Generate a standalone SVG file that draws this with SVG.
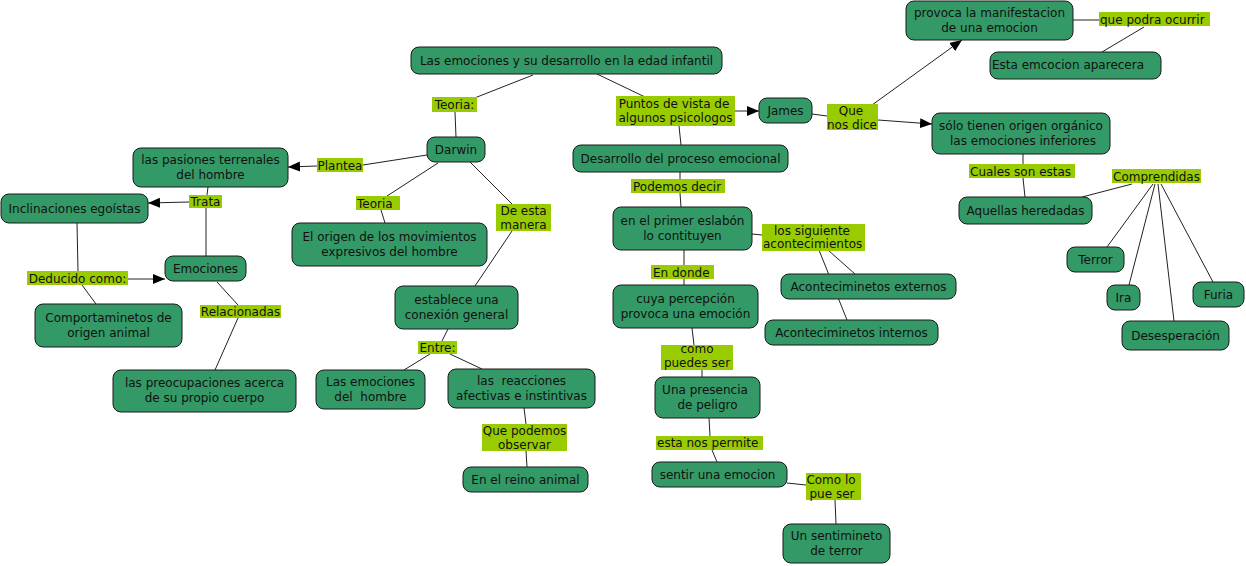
<svg xmlns="http://www.w3.org/2000/svg" width="1246" height="566" viewBox="0 0 1246 566">
<defs>
<marker id="arr" markerUnits="userSpaceOnUse" markerWidth="13" markerHeight="11" refX="12" refY="5" orient="auto">
<path d="M0,0 L12,5 L0,10 z" fill="#000"/>
</marker>
<style>
.n rect{fill:#339966;stroke:#1a1a1a;stroke-width:1}
.n text{font-family:"DejaVu Sans",Verdana,sans-serif;font-size:12px;fill:#111;text-anchor:middle;white-space:pre}
.l rect{fill:#99cc00;stroke:none}
.l text{font-family:"DejaVu Sans",Verdana,sans-serif;font-size:12px;fill:#111;text-anchor:middle;white-space:pre}
.l text.s{text-anchor:start}
#conn path{fill:none;stroke:#222;stroke-width:1}
#conn path.a{marker-end:url(#arr)}
</style>
</defs>
<rect width="1246" height="566" fill="#fff"/>
<g id="conn">
<path d="M533,75 L472,99"/>
<path d="M455,112 L456,137"/>
<path d="M597,74 L645,97"/>
<path class="a" d="M735,111 L759,111"/>
<path d="M679,126 L681,145"/>
<path d="M427,155 L363,165"/>
<path class="a" d="M317,166 L288,167"/>
<path d="M438,163 L387,196"/>
<path d="M381,210 L385,223"/>
<path d="M470,162 L512,204"/>
<path d="M512,231 L475,286"/>
<path d="M208,187 L207,195"/>
<path class="a" d="M189,202 L148,203"/>
<path d="M206,208 L206,256"/>
<path d="M77,223 L78,271"/>
<path class="a" d="M128,279 L165,279"/>
<path d="M82,285 L96,304"/>
<path d="M217,282 L238,305"/>
<path d="M238,318 L215,370"/>
<path d="M448,329 L442,341"/>
<path d="M430,354 L404,370"/>
<path d="M450,354 L482,369"/>
<path d="M524,408 L526,424"/>
<path d="M526,451 L527,467"/>
<path d="M680,172 L680,179"/>
<path d="M680,193 L681,207"/>
<path d="M752,234 L762,235"/>
<path d="M819,250 L847,320"/>
<path d="M828,250 L855,274"/>
<path d="M684,250 L684,265"/>
<path d="M684,279 L684,285"/>
<path d="M692,328 L694,345"/>
<path d="M702,370 L702,377"/>
<path d="M709,418 L710,436"/>
<path d="M712,450 L717,462"/>
<path d="M787,483 L806,485"/>
<path d="M835,500 L836,524"/>
<path d="M812,114 L827,116"/>
<path class="a" d="M872,105 L962,40"/>
<path class="a" d="M878,120 L932,124"/>
<path d="M1073,20 L1099,20"/>
<path d="M1144,27 L1102,52"/>
<path d="M1023,154 L1023,164"/>
<path d="M1023,178 L1025,197"/>
<path d="M1082,197 L1132,184"/>
<path d="M1153,184 L1107,247"/>
<path d="M1155,184 L1129,285"/>
<path d="M1158,184 L1174,321"/>
<path d="M1161,184 L1213,282"/>
</g>
<g id="n1" class="n"><rect x="411" y="47" width="311" height="27" rx="8"/><text x="566.5" y="65">Las emociones y su desarrollo en la edad infantil</text></g>
<g id="n2" class="n"><rect x="427" y="137" width="58" height="25" rx="8"/><text x="456" y="154">Darwin</text></g>
<g id="n3" class="n"><rect x="133" y="148" width="155" height="39" rx="8"/><text x="210.5" y="164">las pasiones terrenales</text><text x="210.5" y="179">del hombre</text></g>
<g id="n4" class="n"><rect x="1" y="194" width="147" height="29" rx="8"/><text x="74.5" y="213">Inclinaciones egoístas</text></g>
<g id="n5" class="n"><rect x="165" y="256" width="81" height="25" rx="8"/><text x="205.5" y="273">Emociones</text></g>
<g id="n6" class="n"><rect x="35" y="304" width="147" height="43" rx="8"/><text x="108.5" y="322">Comportaminetos de</text><text x="108.5" y="337">origen animal</text></g>
<g id="n7" class="n"><rect x="113" y="370" width="183" height="42" rx="8"/><text x="204.5" y="387">las preocupaciones acerca</text><text x="204.5" y="402">de su propio cuerpo</text></g>
<g id="n8" class="n"><rect x="292" y="223" width="195" height="43" rx="8"/><text x="389.5" y="241">El origen de los movimientos</text><text x="389.5" y="256">expresivos del hombre</text></g>
<g id="n9" class="n"><rect x="395" y="286" width="123" height="43" rx="8"/><text x="456.5" y="304">establece una</text><text x="456.5" y="319">conexión general</text></g>
<g id="n10" class="n"><rect x="316" y="370" width="109" height="39" rx="8"/><text x="370.5" y="386">Las emociones</text><text x="370.5" y="401">del  hombre</text></g>
<g id="n11" class="n"><rect x="448" y="369" width="147" height="39" rx="8"/><text x="521.5" y="385">las  reacciones</text><text x="521.5" y="400">afectivas e instintivas</text></g>
<g id="n12" class="n"><rect x="463" y="467" width="125" height="25" rx="8"/><text x="525.5" y="484">En el reino animal</text></g>
<g id="n13" class="n"><rect x="573" y="145" width="215" height="27" rx="8"/><text x="680.5" y="163">Desarrollo del proceso emocional</text></g>
<g id="n14" class="n"><rect x="613" y="207" width="139" height="43" rx="8"/><text x="682.5" y="225">en el primer eslabón</text><text x="682.5" y="240">lo contituyen</text></g>
<g id="n15" class="n"><rect x="613" y="285" width="145" height="43" rx="8"/><text x="685.5" y="303">cuya percepción</text><text x="685.5" y="318">provoca una emoción</text></g>
<g id="n16" class="n"><rect x="781" y="274" width="175" height="25" rx="8"/><text x="868.5" y="291">Aconteciminetos externos</text></g>
<g id="n17" class="n"><rect x="765" y="320" width="173" height="25" rx="8"/><text x="851.5" y="337">Aconteciminetos internos</text></g>
<g id="n18" class="n"><rect x="655" y="377" width="105" height="41" rx="8"/><text x="705" y="394">Una presencia</text><text x="707.5" y="409">de peligro</text></g>
<g id="n19" class="n"><rect x="652" y="462" width="135" height="25" rx="8"/><text x="717.5" y="479">sentir una emocion</text></g>
<g id="n20" class="n"><rect x="783" y="524" width="107" height="39" rx="8"/><text x="836.5" y="540">Un sentimineto</text><text x="836.5" y="555">de terror</text></g>
<g id="n21" class="n"><rect x="759" y="98" width="53" height="25" rx="8"/><text x="785.5" y="115">James</text></g>
<g id="n22" class="n"><rect x="906" y="1" width="167" height="39" rx="8"/><text x="989.5" y="17">provoca la manifestacion</text><text x="989.5" y="32">de una emocion</text></g>
<g id="n23" class="n"><rect x="990" y="52" width="171" height="27" rx="8"/><text x="1068" y="69">Esta emcocion aparecera</text></g>
<g id="n24" class="n"><rect x="932" y="113" width="178" height="41" rx="8"/><text x="1021" y="130">sólo tienen origen orgánico</text><text x="1023" y="145">las emociones inferiores</text></g>
<g id="n25" class="n"><rect x="959" y="197" width="133" height="27" rx="8"/><text x="1025.5" y="215">Aquellas heredadas</text></g>
<g id="n26" class="n"><rect x="1067" y="247" width="57" height="25" rx="8"/><text x="1095.5" y="264">Terror</text></g>
<g id="n27" class="n"><rect x="1107" y="285" width="33" height="25" rx="8"/><text x="1123.5" y="302">Ira</text></g>
<g id="n28" class="n"><rect x="1193" y="282" width="51" height="25" rx="8"/><text x="1218.5" y="299">Furia</text></g>
<g id="n29" class="n"><rect x="1122" y="321" width="107" height="29" rx="8"/><text x="1175.5" y="340">Desesperación</text></g>
<g id="l1" class="l"><rect x="432" y="97" width="45" height="15"/><text x="454.5" y="109">Teoria:</text></g>
<g id="l2" class="l"><rect x="616" y="96" width="119" height="30"/><text x="674" y="108">Puntos de vista de</text><text x="675.5" y="122">algunos psicologos</text></g>
<g id="l3" class="l"><rect x="317" y="158" width="46" height="14"/><text x="340" y="170">Plantea</text></g>
<g id="l4" class="l"><rect x="356" y="196" width="44" height="14"/><text class="s" x="357" y="208">Teoria</text></g>
<g id="l5" class="l"><rect x="496" y="204" width="55" height="27"/><text x="523.5" y="215">De esta</text><text x="523.5" y="229">manera</text></g>
<g id="l6" class="l"><rect x="189" y="195" width="33" height="13"/><text x="205.5" y="206">Trata</text></g>
<g id="l7" class="l"><rect x="27" y="271" width="101" height="14"/><text x="77.5" y="283">Deducido como:</text></g>
<g id="l8" class="l"><rect x="200" y="305" width="81" height="13"/><text x="240.5" y="316">Relacionadas</text></g>
<g id="l9" class="l"><rect x="418" y="341" width="39" height="13"/><text x="437.5" y="352">Entre:</text></g>
<g id="l10" class="l"><rect x="482" y="424" width="85" height="27"/><text x="524.5" y="435">Que podemos</text><text x="524.5" y="449">observar</text></g>
<g id="l11" class="l"><rect x="631" y="179" width="94" height="14"/><text class="s" x="633" y="191">Podemos decir</text></g>
<g id="l12" class="l"><rect x="651" y="265" width="63" height="14"/><text class="s" x="653" y="277">En donde</text></g>
<g id="l13" class="l"><rect x="762" y="224" width="103" height="27"/><text x="812" y="235">los siguiente</text><text class="s" x="763" y="248">acontecimientos</text></g>
<g id="l14" class="l"><rect x="661" y="345" width="72" height="25"/><text x="697" y="353">como</text><text x="697" y="367">puedes ser</text></g>
<g id="l15" class="l"><rect x="656" y="436" width="107" height="14"/><text class="s" x="657" y="447">esta nos permite</text></g>
<g id="l16" class="l"><rect x="806" y="473" width="55" height="27"/><text x="831" y="484">Como lo</text><text x="832" y="498">pue ser</text></g>
<g id="l17" class="l"><rect x="827" y="104" width="51" height="26"/><text x="851" y="115">Que</text><text x="852" y="129">nos dice</text></g>
<g id="l18" class="l"><rect x="1099" y="12" width="111" height="14"/><text class="s" x="1100" y="24">que podra ocurrir</text></g>
<g id="l19" class="l"><rect x="969" y="164" width="106" height="14"/><text class="s" x="970" y="176">Cuales son estas</text></g>
<g id="l20" class="l"><rect x="1112" y="169" width="89" height="14"/><text x="1156.5" y="181">Comprendidas</text></g>
</svg>
